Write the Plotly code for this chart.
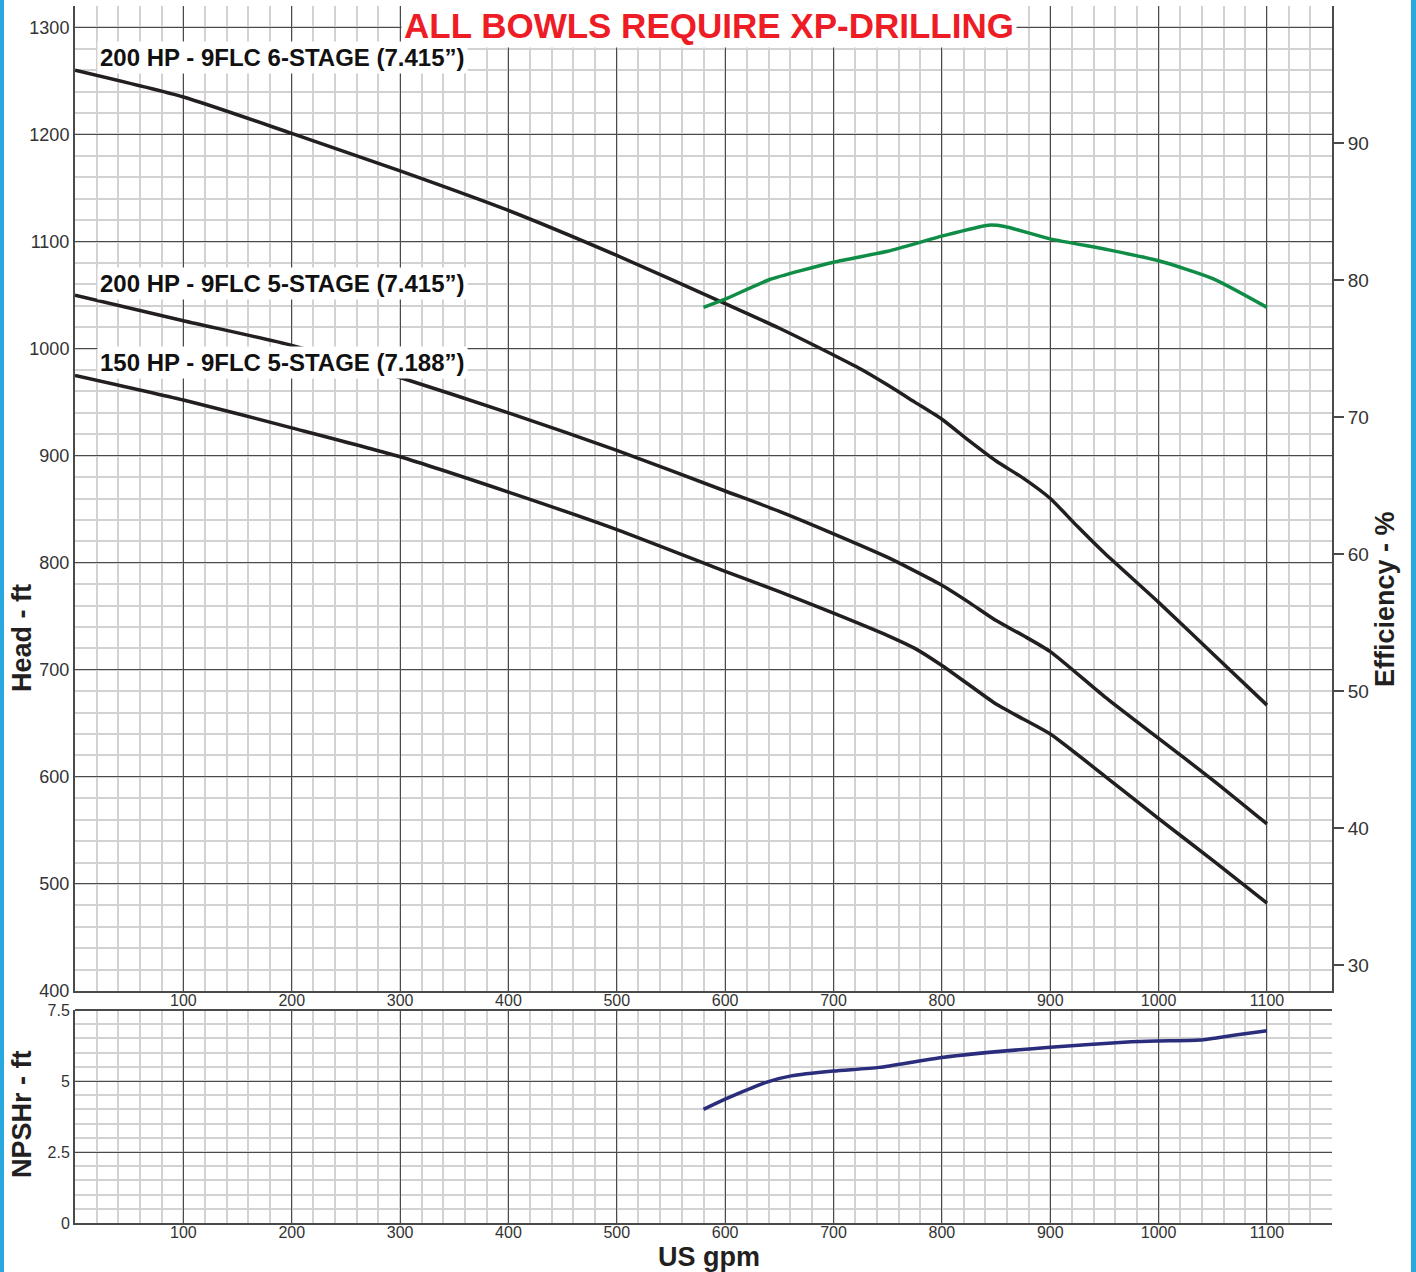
import plotly.graph_objects as go

# ---------------- data ----------------
gpm_6stage = [0, 100, 200, 300, 400, 500, 600, 650, 700, 725, 750, 775, 800, 825, 850, 875, 900, 925, 950, 1000, 1050, 1100]
head_200hp_6stage = [1260, 1235, 1201, 1166, 1129, 1087, 1042, 1019, 994, 981, 966, 950, 934, 914, 895, 879, 860, 834, 809, 763, 715, 667]

gpm_5stage = [0, 100, 200, 300, 400, 500, 600, 650, 700, 750, 800, 825, 850, 875, 900, 950, 1000, 1050, 1100]
head_200hp_5stage = [1050, 1026, 1003, 973, 940, 905, 867, 848, 827, 805, 779, 763, 746, 732, 717, 675, 636, 597, 556]

gpm_150 = [0, 100, 200, 300, 400, 500, 600, 650, 700, 750, 775, 800, 825, 850, 875, 900, 950, 1000, 1050, 1100]
head_150hp_5stage = [975, 952, 926, 899, 866, 831, 792, 773, 753, 732, 720, 704, 686, 668, 654, 640, 601, 561, 522, 482]

eff_gpm = [580, 600, 640, 700, 750, 800, 843, 858, 900, 954, 1000, 1050, 1100]
efficiency = [78.0, 78.6, 80.0, 81.3, 82.1, 83.2, 84.0, 83.9, 83.0, 82.2, 81.4, 80.1, 78.0]

npsh_gpm = [580, 600, 640, 661, 700, 742, 800, 900, 975, 1000, 1038, 1071, 1100]
npshr = [4.0, 4.36, 4.98, 5.18, 5.35, 5.48, 5.83, 6.19, 6.38, 6.41, 6.44, 6.62, 6.77]

x_ticks = [100, 200, 300, 400, 500, 600, 700, 800, 900, 1000, 1100]
head_ticks = [400, 500, 600, 700, 800, 900, 1000, 1100, 1200, 1300]
eff_ticks = [30, 40, 50, 60, 70, 80, 90]
npsh_ticks = [0, 2.5, 5, 7.5]
npsh_tick_text = ["0", "2.5", "5", "7.5"]

curve_labels = ["200 HP - 9FLC 6-STAGE (7.415\u201d)",
                "200 HP - 9FLC 5-STAGE (7.415\u201d)",
                "150 HP - 9FLC 5-STAGE (7.188\u201d)"]
label_heads = [1272, 1061, 987]
title_text = "ALL BOWLS REQUIRE XP-DRILLING"

# ---------------- layout geometry ----------------
W, H = 1416, 1272
ML, MR, MT, MB = 75, 84, 6, 49
PW, PH = W - ML - MR, H - MT - MB


def px_x(p):
    return (p - ML) / PW


def px_y(p):
    return 1 - (p - MT) / PH


FONT = "Liberation Sans, Arial, sans-serif"
MAJOR = "#4a4a4a"
MINOR = "#d2d2d2"
TICKC = "#333333"

fig = go.Figure()

for xs, vals in ((gpm_6stage, head_200hp_6stage), (gpm_5stage, head_200hp_5stage), (gpm_150, head_150hp_5stage)):
    fig.add_trace(go.Scatter(x=xs, y=vals, mode="lines", xaxis="x", yaxis="y",
                             line=dict(color="#231f20", width=3.5, shape="spline", smoothing=0.6),
                             showlegend=False, hoverinfo="skip"))

fig.add_trace(go.Scatter(x=eff_gpm, y=efficiency, mode="lines", xaxis="x", yaxis="y3",
                         line=dict(color="#0f8c45", width=3.5, shape="spline", smoothing=0.6),
                         showlegend=False, hoverinfo="skip"))

fig.add_trace(go.Scatter(x=npsh_gpm, y=npshr, mode="lines", xaxis="x2", yaxis="y2",
                         line=dict(color="#2a2c7c", width=3.5, shape="spline", smoothing=0.6),
                         showlegend=False, hoverinfo="skip"))

main_bottom = px_y(991)
npsh_top = px_y(1010)

common_x = dict(range=[0, 1160], tickvals=x_ticks, showgrid=True, gridcolor=MAJOR, gridwidth=1,
                minor=dict(dtick=20, tick0=0, showgrid=True, gridcolor=MINOR, gridwidth=1.5),
                zeroline=False, showline=True, linecolor=MAJOR, linewidth=2, ticks="",
                automargin=False, ticklabelstandoff=-6,
                tickfont=dict(family=FONT, size=16, color=TICKC), fixedrange=True)

fig.update_layout(
    width=W, height=H,
    margin=dict(l=ML, r=MR, t=MT, b=MB, autoexpand=False),
    paper_bgcolor="white", plot_bgcolor="white",
    showlegend=False,
    xaxis=dict(domain=[0, 1], anchor="y", **common_x),
    xaxis2=dict(domain=[0, 1], anchor="y2", **common_x),
    yaxis=dict(domain=[main_bottom, 1], anchor="x", range=[400, 1320], tickvals=head_ticks,
               showgrid=True, gridcolor=MAJOR, gridwidth=1,
               minor=dict(dtick=20, tick0=400, showgrid=True, gridcolor=MINOR, gridwidth=1.5),
               zeroline=False, showline=True, linecolor=MAJOR, linewidth=2, ticks="",
               automargin=False, fixedrange=True,
               tickfont=dict(family=FONT, size=18, color=TICKC)),
    yaxis3=dict(overlaying="y", side="right", anchor="x", range=[28.1, 100], tickvals=eff_ticks,
                showgrid=False, zeroline=False, showline=True, linecolor=MAJOR, linewidth=2,
                ticks="outside", ticklen=10, tickwidth=1.5, tickcolor=MAJOR, automargin=False,
                fixedrange=True, tickfont=dict(family=FONT, size=19, color=TICKC)),
    yaxis2=dict(domain=[0, npsh_top], anchor="x2", range=[0, 7.5], tickvals=npsh_ticks,
                ticktext=npsh_tick_text,
                showgrid=True, gridcolor=MAJOR, gridwidth=1,
                minor=dict(dtick=0.5, tick0=0, showgrid=True, gridcolor=MINOR, gridwidth=1.5),
                zeroline=False, showline=True, linecolor=MAJOR, linewidth=2, ticks="",
                automargin=False, fixedrange=True,
                tickfont=dict(family=FONT, size=16, color=TICKC)),
)

# top border of NPSH panel
fig.add_shape(type="line", xref="paper", yref="paper", x0=0, x1=1, y0=npsh_top, y1=npsh_top,
              line=dict(color=MAJOR, width=2))

# title annotation
fig.add_annotation(text="<b>" + title_text + "</b>", xref="paper", yref="paper",
                   x=px_x(709), y=px_y(25), xanchor="center", yanchor="middle", showarrow=False,
                   font=dict(family=FONT, size=35, color="#ee1c25"), bgcolor="white", borderpad=2)

# curve labels
for txt, hv in zip(curve_labels, label_heads):
    fig.add_annotation(text="<b>" + txt + "</b>", xref="x", yref="y", x=20.5, y=hv,
                       xanchor="left", yanchor="middle", showarrow=False,
                       font=dict(family=FONT, size=24, color="#111111"), bgcolor="white", borderpad=2)

# axis titles
titles = [("Head - ft", 22, 638, -90), ("NPSHr - ft", 22, 1114, -90),
          ("Efficiency - %", 1385, 599, -90), ("US gpm", 709, 1257, 0)]
for txt, xp, yp, ang in titles:
    fig.add_annotation(text="<b>" + txt + "</b>", xref="paper", yref="paper",
                       x=px_x(xp), y=px_y(yp), xanchor="center", yanchor="middle",
                       showarrow=False, textangle=ang,
                       font=dict(family=FONT, size=27, color="#231f20"))

# blue side stripes
for x0, x1 in ((0, 4), (1411, 1416)):
    fig.add_shape(type="rect", xref="paper", yref="paper", x0=px_x(x0), x1=px_x(x1),
                  y0=px_y(H), y1=px_y(0), line=dict(width=0), fillcolor="#29a8e0", layer="above")

fig.write_html("out.html", config={"displayModeBar": False},
               post_script="document.body.style.margin='0';document.body.style.overflow='hidden';")
